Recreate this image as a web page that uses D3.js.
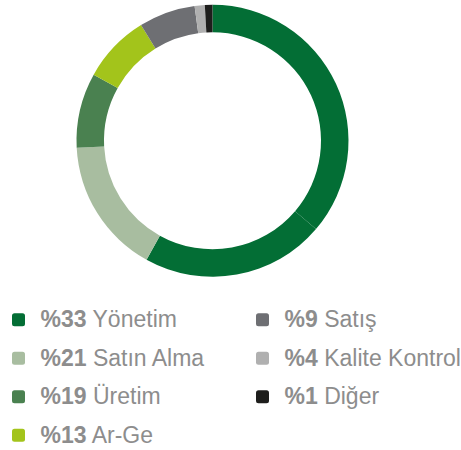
<!DOCTYPE html>
<html>
<head>
<meta charset="utf-8">
<script src="https://cdn.jsdelivr.net/npm/d3@7"></script>
<style>
  html, body { margin: 0; padding: 0; background: #fff; }
  svg { display: block; }
</style>
</head>
<body>
<div id="chart"></div>
<script>
// Ring slices as drawn (share of the circle, clockwise from 12 o'clock)
const sliceValues = [36.2, 21.8, 16.1, 8.9, 8.1, 6.7, 1.2, 0.9];
const sliceColors = ['#036e35', '#036e35', '#a8bda0', '#4a8150', '#a3c41b', '#6e6f73', '#b0b0b0', '#1e1e1c'];

// Legend entries
const legendPcts = ['%33', '%21', '%19', '%13', '%9', '%4', '%1'];
const legendLabels = ['Yönetim', 'Satın Alma', 'Üretim', 'Ar-Ge', 'Satış', 'Kalite Kontrol', 'Diğer'];
const legendColors = ['#036e35', '#a8bda0', '#4a8150', '#a3c41b', '#6e6f73', '#b0b0b0', '#1e1e1c'];

const WIDTH = 461;
const HEIGHT = 450;
const CENTER = { x: 212.5, y: 140.8 };
const OUTER_R = 136;
const INNER_R = 108.5;
const TEXT_COLOR = '#8d8d8d';

const svg = d3.select('#chart')
  .append('svg')
  .attr('width', WIDTH)
  .attr('height', HEIGHT);

const pie = d3.pie().sort(null).value(d => d);
const arc = d3.arc().innerRadius(INNER_R).outerRadius(OUTER_R);

svg.append('g')
  .attr('transform', `translate(${CENTER.x},${CENTER.y})`)
  .selectAll('path')
  .data(pie(sliceValues))
  .join('path')
  .attr('d', arc)
  .attr('fill', (d, i) => sliceColors[i]);

// legend: two columns, first holds 4 rows, second 3
const colX = d3.scaleOrdinal().domain([0, 1]).range([12, 256]);
const rowY = d3.scaleLinear().domain([0, 3]).range([319.8, 435.3]);
const SW = 13;

const items = legendLabels.map((label, i) => ({
  label,
  pct: legendPcts[i],
  color: legendColors[i],
  col: i < 4 ? 0 : 1,
  row: i < 4 ? i : i - 4
}));

const legend = svg.append('g')
  .style('font-family', '"Liberation Sans", Arial, Helvetica, sans-serif')
  .style('font-size', '23px');

const item = legend.selectAll('g')
  .data(items)
  .join('g')
  .attr('transform', d => `translate(${colX(d.col)},${rowY(d.row)})`);

item.append('rect')
  .attr('x', 0)
  .attr('y', -SW / 2)
  .attr('width', SW)
  .attr('height', SW)
  .attr('rx', 2.5)
  .attr('fill', d => d.color);

const txt = item.append('text')
  .attr('x', 28.5)
  .attr('y', 7.5)
  .attr('fill', TEXT_COLOR);

txt.append('tspan')
  .attr('font-weight', 'bold')
  .text(d => d.pct);

txt.append('tspan')
  .text(d => ' ' + d.label);
</script>
</body>
</html>
